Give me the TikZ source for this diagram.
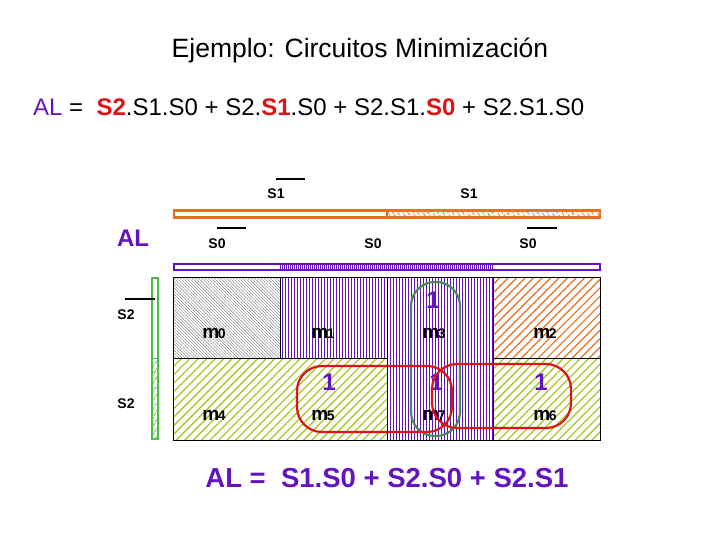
\documentclass[tikz,border=0pt]{standalone}
\usepackage{fontspec}
\setmainfont{Liberation Sans}
\usetikzlibrary{patterns.meta}
\definecolor{pur}{RGB}{100,20,190}
\definecolor{org}{RGB}{230,110,30}
\definecolor{yg}{RGB}{170,200,40}
\definecolor{gr}{RGB}{70,190,70}
\definecolor{dgr}{RGB}{70,140,80}
\definecolor{rd}{RGB}{220,20,20}
\begin{document}
\begin{tikzpicture}[x=1pt,y=-1pt,
  lab/.style={font=\fontsize{14}{15}\selectfont\bfseries},
  one/.style={font=\fontsize{24}{26}\selectfont\bfseries,text=pur},
  mm/.style={font=\fontsize{19}{20}\selectfont\bfseries},
  obar/.style={line width=2pt},
  cell/.style={draw=black,line width=0.6pt}]
\useasboundingbox (0,0) rectangle (720,540);
\node (title) at (360,50) {\fontsize{26.5}{30}\selectfont Ejemplo: Circuitos Minimización};
\node[anchor=west,inner sep=0pt] (eq) at (33,107) {\fontsize{24}{28}\selectfont\textcolor{pur}{AL} = \ \textcolor{rd}{\bfseries S2}.S1.S0 + S2.\textcolor{rd}{\bfseries S1}.S0 + S2.S1.\textcolor{rd}{\bfseries S0} + S2.S1.S0};
% cells
\fill[white] (173,277) rectangle (600,440);
\path[pattern={Lines[angle=-45,distance=2.2pt,line width=0.4pt]},pattern color=gray] (173,277) rectangle (280,358);
\path[pattern={Lines[angle=90,distance=3pt,line width=0.5pt]},pattern color=pur] (280,277) rectangle (387,358);
\path[pattern={Lines[angle=90,distance=3pt,line width=0.5pt]},pattern color=pur] (387,277) rectangle (493,440);
\path[pattern={Lines[angle=45,distance=6pt,line width=1.2pt]},pattern color=org] (493,277) rectangle (600,358);
\path[pattern={Lines[angle=45,distance=6pt,line width=1.3pt]},pattern color=yg] (173,358) rectangle (387,440);
\path[pattern={Lines[angle=45,distance=6pt,line width=1.3pt]},pattern color=yg] (493,358) rectangle (600,440);
\draw[cell] (173,277) rectangle (600,440);
\draw[cell] (280,277) -- (280,358) (387,277) -- (387,440) (493,277) -- (493,440) (173,358) -- (387,358) (493,358) -- (600,358);
% bars
\draw[org,line width=2.8pt,fill=white] (174,210.5) rectangle (600,217.5);
\path[pattern={Lines[angle=-60,distance=4pt,line width=1.2pt]},pattern color=org] (387,211) rectangle (600,217);
\draw[org,line width=1.2pt] (387,211) -- (387,217);
\draw[pur,line width=2.5pt,fill=white] (174,264) rectangle (600,270);
\path[pattern={Lines[angle=90,distance=2pt,line width=0.8pt]},pattern color=pur] (280,264.5) rectangle (493,269.5);
\draw[gr,line width=2pt,fill=white] (152,278) rectangle (158,439);
\path[pattern={Lines[angle=60,distance=4pt,line width=1.2pt]},pattern color=gr!80!yg] (152,358) rectangle (158,439);
\draw[gr,line width=1pt] (152,358) -- (158,358);
% overbars
\draw[obar] (276,179) -- (305,179);
\draw[obar] (217,228) -- (246,228);
\draw[obar] (527,228) -- (557,228);
\draw[obar] (125,299) -- (155,299);
% labels
\node[lab] (s1a) at (276,194) {S1};
\node[lab] (s1b) at (469,194) {S1};
\node[font=\fontsize{24}{26}\selectfont\bfseries,text=pur] (al) at (133,238) {AL};
\node[lab] (s0a) at (217,244) {S0};
\node[lab] (s0b) at (373,244) {S0};
\node[lab] (s0c) at (528,244) {S0};
\node[lab] (s2a) at (126,315) {S2};
\node[lab] (s2b) at (126,404) {S2};
% minterms
\foreach \n/\x/\y/\d in {m0/214/333/0,m1/323/333/1,m3/434/333/3,m2/545/333/2,m4/214/415/4,m5/323/415/5,m7/434/415/7,m6/545/415/6}
  \node[mm] (\n) at (\x,\y) {m\kern-1.5pt{\fontsize{14}{15}\selectfont\d}};
\node[one] (o3) at (433,300) {1};
\node[one] (o5) at (329,382) {1};
\node[one] (o7) at (436,382) {1};
\node[one] (o6) at (541,382) {1};
% loops
\draw[dgr,line width=2.2pt,rounded corners=24pt] (411,282) rectangle (460,436);
\draw[rd,line width=2.2pt,rounded corners=25pt] (297,366) rectangle (452,432);
\draw[rd,line width=2.2pt,rounded corners=25pt] (432,364) rectangle (571,428);
\node[font=\fontsize{27.5}{30}\selectfont\bfseries,text=pur] (res) at (387,478) {AL = \ S1.S0 + S2.S0 + S2.S1};
\end{tikzpicture}
\end{document}
